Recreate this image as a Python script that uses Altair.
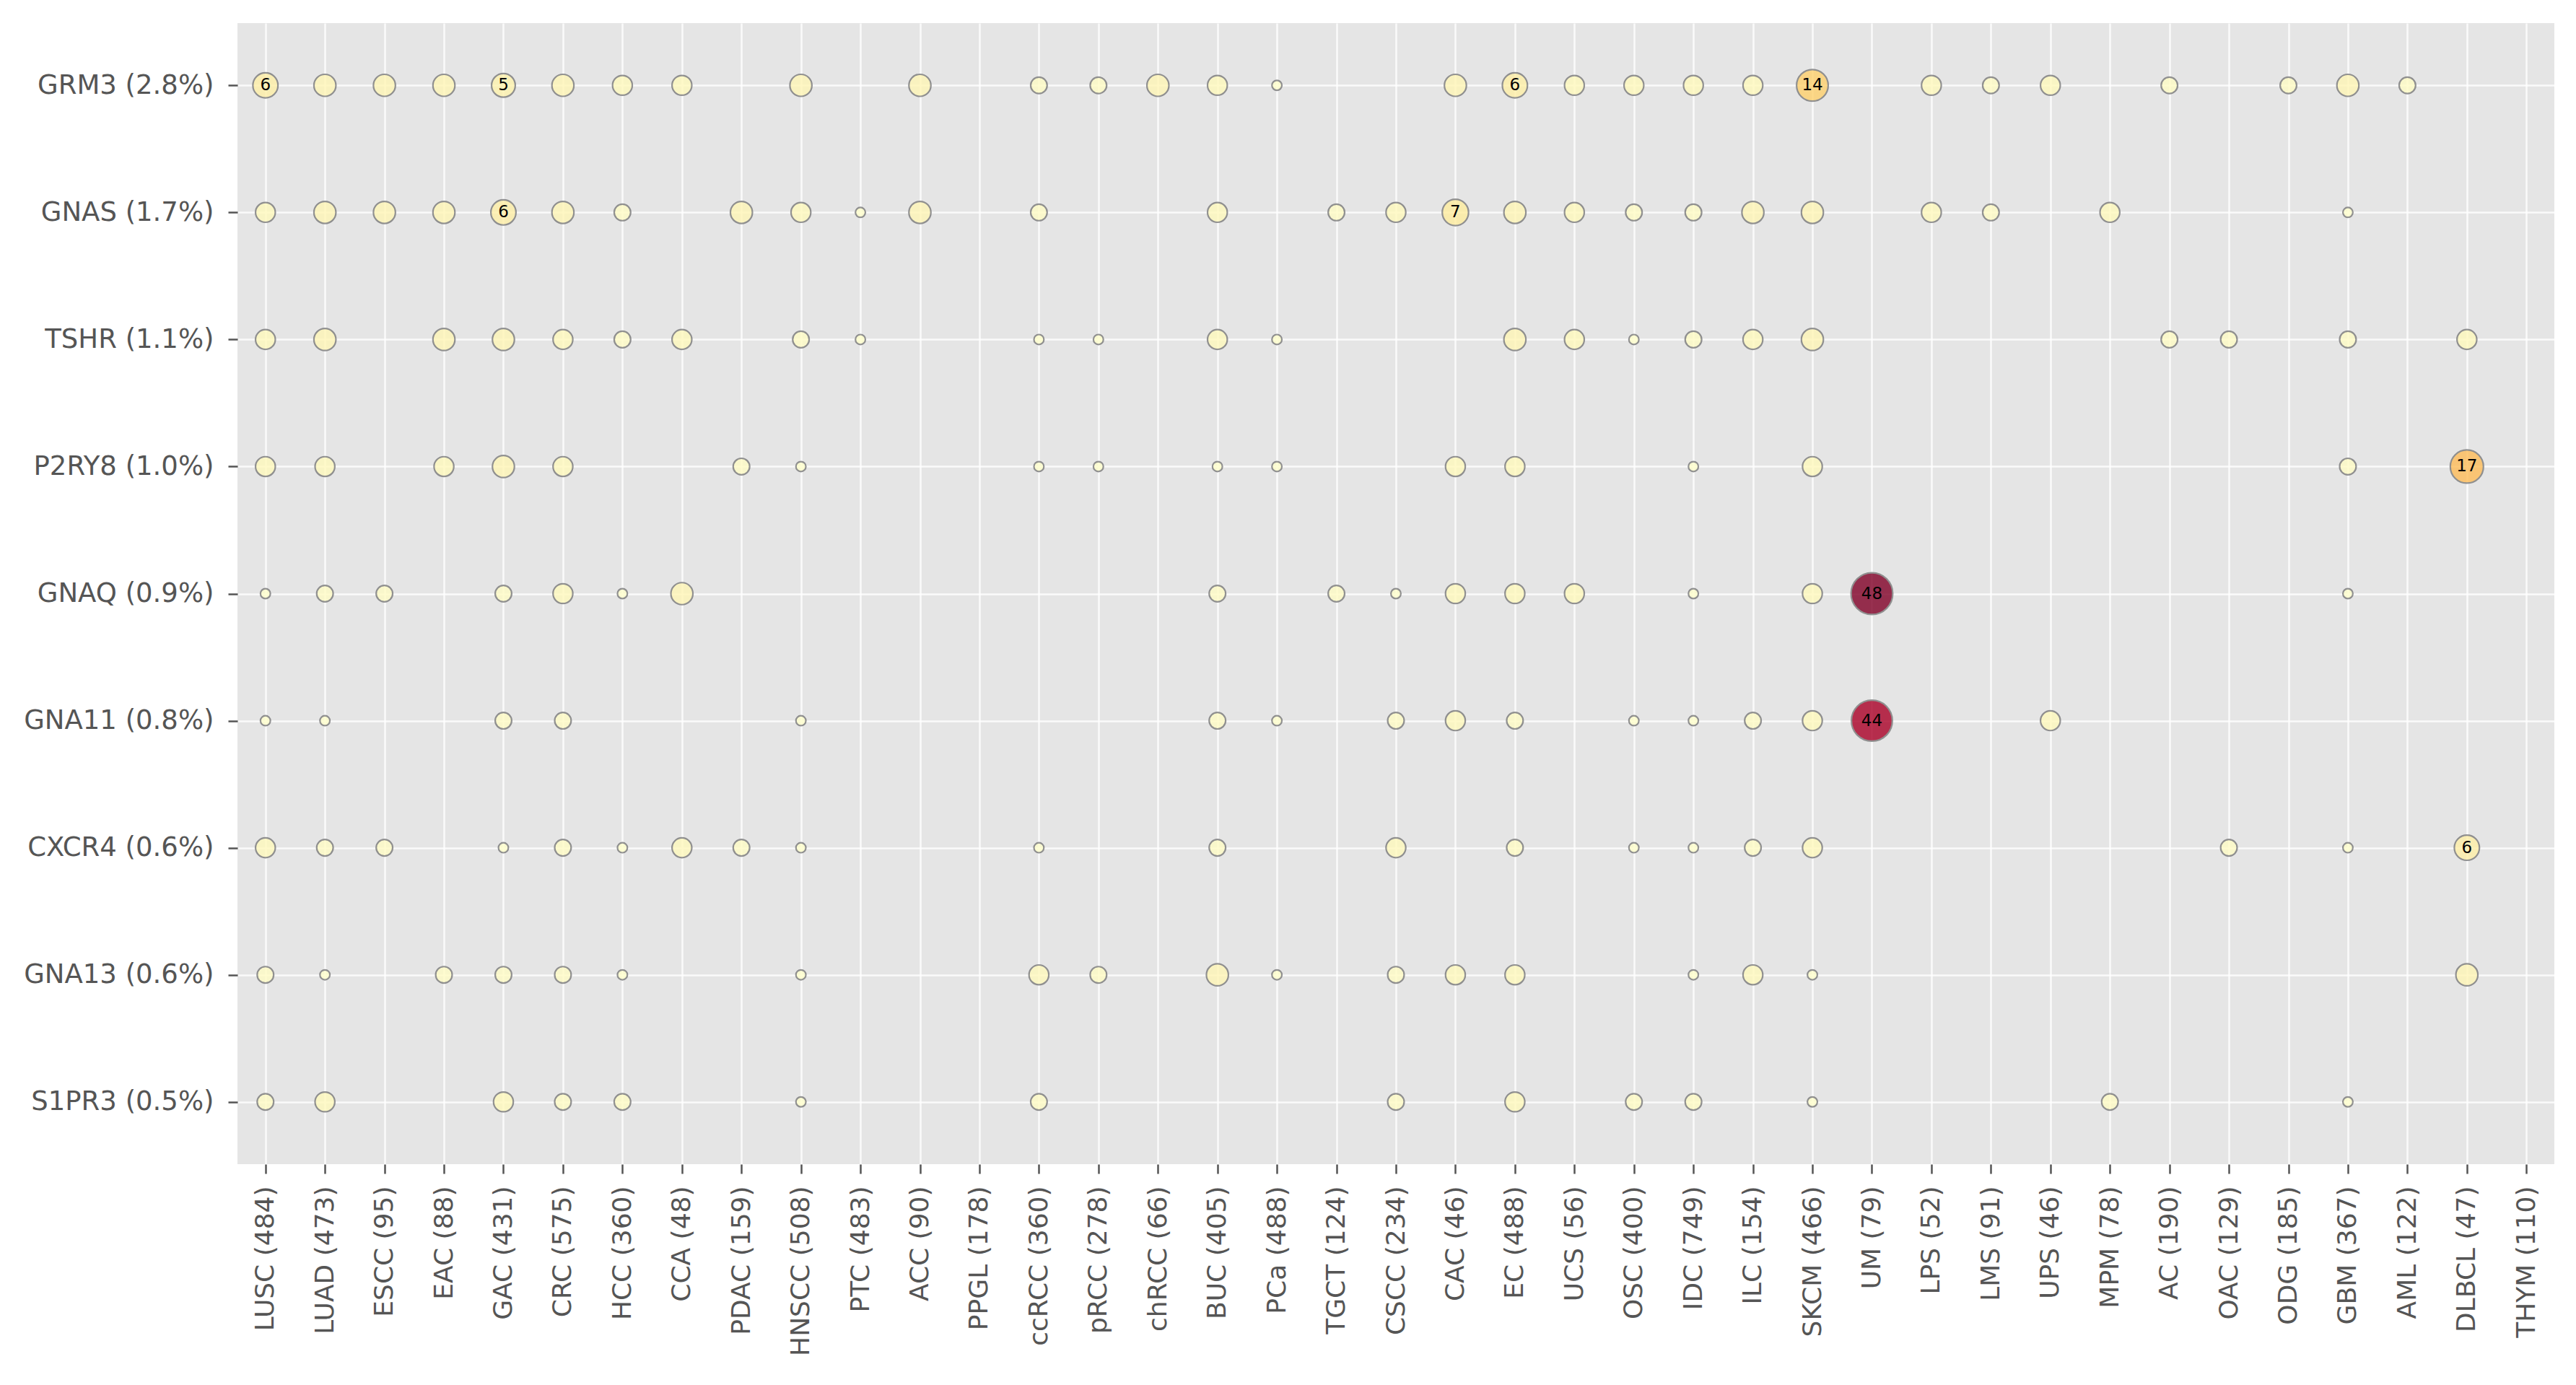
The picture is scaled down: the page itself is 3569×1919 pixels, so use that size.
import altair as alt
import pandas as pd

CANCERS = [
    "LUSC (484)", "LUAD (473)", "ESCC (95)", "EAC (88)", "GAC (431)",
    "CRC (575)", "HCC (360)", "CCA (48)", "PDAC (159)", "HNSCC (508)",
    "PTC (483)", "ACC (90)", "PPGL (178)", "ccRCC (360)", "pRCC (278)",
    "chRCC (66)", "BUC (405)", "PCa (488)", "TGCT (124)", "CSCC (234)",
    "CAC (46)", "EC (488)", "UCS (56)", "OSC (400)", "IDC (749)",
    "ILC (154)", "SKCM (466)", "UM (79)", "LPS (52)", "LMS (91)",
    "UPS (46)", "MPM (78)", "AC (190)", "OAC (129)", "ODG (185)",
    "GBM (367)", "AML (122)", "DLBCL (47)", "THYM (110)",
]

GENES = [
    "GRM3 (2.8%)", "GNAS (1.7%)", "TSHR (1.1%)", "P2RY8 (1.0%)",
    "GNAQ (0.9%)", "GNA11 (0.8%)", "CXCR4 (0.6%)", "GNA13 (0.6%)",
    "S1PR3 (0.5%)",
]

# mutated samples per cancer type, same order as CANCERS (0 = no dot)
GRM3 = [6, 4, 4, 4, 5, 4, 3, 3, 0, 4, 0, 4, 0, 2, 2, 4, 3, 1, 0, 0,
        4, 6, 3, 3, 3, 3, 14, 0, 3, 2, 3, 0, 2, 0, 2, 4, 2, 0, 0]
GNAS = [3, 4, 4, 4, 6, 4, 2, 0, 4, 3, 1, 4, 0, 2, 0, 0, 3, 0, 2, 3,
        7, 4, 3, 2, 2, 4, 4, 0, 3, 2, 0, 3, 0, 0, 0, 1, 0, 0, 0]
TSHR = [3, 4, 0, 4, 4, 3, 2, 3, 0, 2, 1, 0, 0, 1, 1, 0, 3, 1, 0, 0,
        0, 4, 3, 1, 2, 3, 4, 0, 0, 0, 0, 0, 2, 2, 0, 2, 0, 3, 0]
P2RY8 = [3, 3, 0, 3, 4, 3, 0, 0, 2, 1, 0, 0, 0, 1, 1, 0, 1, 1, 0, 0,
         3, 3, 0, 0, 1, 0, 3, 0, 0, 0, 0, 0, 0, 0, 0, 2, 0, 17, 0]
GNAQ = [1, 2, 2, 0, 2, 3, 1, 4, 0, 0, 0, 0, 0, 0, 0, 0, 2, 0, 2, 1,
        3, 3, 3, 0, 1, 0, 3, 48, 0, 0, 0, 0, 0, 0, 0, 1, 0, 0, 0]
GNA11 = [1, 1, 0, 0, 2, 2, 0, 0, 0, 1, 0, 0, 0, 0, 0, 0, 2, 1, 0, 2,
         3, 2, 0, 1, 1, 2, 3, 44, 0, 0, 3, 0, 0, 0, 0, 0, 0, 0, 0]
CXCR4 = [3, 2, 2, 0, 1, 2, 1, 3, 2, 1, 0, 0, 0, 1, 0, 0, 2, 0, 0, 3,
         0, 2, 0, 1, 1, 2, 3, 0, 0, 0, 0, 0, 0, 2, 0, 1, 0, 6, 0]
GNA13 = [2, 1, 0, 2, 2, 2, 1, 0, 0, 1, 0, 0, 0, 3, 2, 0, 4, 1, 0, 2,
         3, 3, 0, 0, 1, 3, 1, 0, 0, 0, 0, 0, 0, 0, 0, 0, 0, 4, 0]
S1PR3 = [2, 3, 0, 0, 3, 2, 2, 0, 0, 1, 0, 0, 0, 2, 0, 0, 0, 0, 0, 2,
         0, 3, 0, 2, 2, 0, 1, 0, 0, 0, 0, 2, 0, 0, 0, 1, 0, 0, 0]

COUNTS = dict(zip(GENES, [GRM3, GNAS, TSHR, P2RY8, GNAQ, GNA11, CXCR4, GNA13, S1PR3]))

# YlOrRd stops, spread evenly over the count range 1..48
YLORRD = ["#ffffcc", "#ffeda0", "#fed976", "#feb24c", "#fd8d3c",
          "#fc4e2a", "#e31a1c", "#bd0026", "#800026"]
CMIN, CMAX = 1, 48
color_domain = [CMIN + (CMAX - CMIN) * i / (len(YLORRD) - 1) for i in range(len(YLORRD))]

rows = []
for gene, counts in COUNTS.items():
    for cancer, n in zip(CANCERS, counts):
        if n:
            rows.append({"gene": gene, "cancer": cancer, "count": n})
df = pd.DataFrame(rows)

FONT = "DejaVu Sans"
GREY = "#555555"

x = alt.X(
    "cancer:N",
    scale=alt.Scale(type="point", domain=CANCERS, padding=0.47),
    axis=alt.Axis(
        title=None, labelAngle=270, labelFont=FONT, labelFontSize=36,
        labelColor=GREY, labelPadding=17, labelLimit=500, labelOverlap=False,
        tickSize=13, tickWidth=2.5, tickColor=GREY, domain=False,
        grid=True, gridColor="white", gridWidth=2.5, gridOpacity=0.8,
    ),
)
y = alt.Y(
    "gene:N",
    scale=alt.Scale(type="point", domain=GENES, padding=0.49),
    axis=alt.Axis(
        title=None, labelFont=FONT, labelFontSize=37, labelColor=GREY,
        labelPadding=20, labelLimit=500, tickSize=13, tickWidth=2.5,
        tickColor=GREY, domain=False,
        grid=True, gridColor="white", gridWidth=2.5, gridOpacity=0.8,
    ),
)

base = alt.Chart(df).encode(x=x, y=y)

dots = base.mark_circle(
    opacity=0.8, stroke="#7a7a7a", strokeWidth=2.2
).encode(
    size=alt.Size(
        "count:Q",
        scale=alt.Scale(type="pow", exponent=0.3, domain=[CMIN, CMAX],
                        range=[190, 3340], zero=False),
        legend=None,
    ),
    color=alt.Color(
        "count:Q",
        scale=alt.Scale(domain=color_domain, range=YLORRD, interpolate="rgb", zero=False),
        legend=None,
    ),
)

labels = base.transform_filter("datum.count >= 5").mark_text(
    font=FONT, fontSize=23, color="black", align="center", baseline="middle"
).encode(text="count:Q")

chart = (
    (dots + labels)
    .properties(
        width=3210, height=1581,
        padding={"left": 24, "top": 24, "right": 5, "bottom": 5},
        background="white",
    )
    .configure_view(fill="#E5E5E5", strokeWidth=0)
)

chart.save("out.html", embed_options={"renderer": "svg", "actions": False})
